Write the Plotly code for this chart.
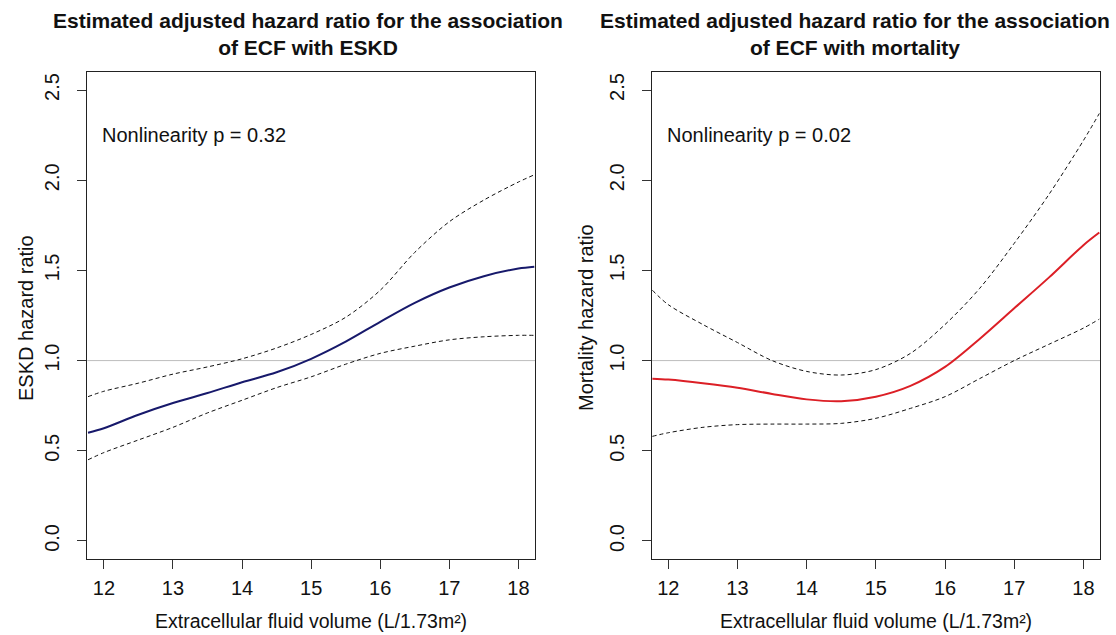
import plotly.graph_objects as go

# ---------------- data ----------------
ecf_x = [11.77, 12.0, 12.5, 13.0, 13.5, 14.0, 14.5, 15.0, 15.5, 16.0, 16.5, 17.0, 17.5, 18.0, 18.23]

eskd_hr = [0.60, 0.625, 0.70, 0.765, 0.82, 0.88, 0.935, 1.01, 1.105, 1.215, 1.32, 1.405, 1.468, 1.51, 1.52]
eskd_upper = [0.80, 0.83, 0.875, 0.925, 0.965, 1.01, 1.07, 1.145, 1.24, 1.39, 1.60, 1.77, 1.89, 1.99, 2.03]
eskd_lower = [0.45, 0.49, 0.56, 0.63, 0.71, 0.78, 0.85, 0.91, 0.98, 1.04, 1.08, 1.115, 1.132, 1.14, 1.14]

mort_hr = [0.90, 0.895, 0.875, 0.85, 0.815, 0.785, 0.775, 0.80, 0.86, 0.965, 1.12, 1.29, 1.46, 1.64, 1.71]
mort_upper = [1.39, 1.31, 1.20, 1.10, 1.00, 0.94, 0.92, 0.95, 1.04, 1.20, 1.40, 1.65, 1.92, 2.22, 2.37]
mort_lower = [0.58, 0.60, 0.63, 0.645, 0.648, 0.648, 0.652, 0.68, 0.735, 0.80, 0.90, 1.00, 1.09, 1.18, 1.23]

x_ticks = [12, 13, 14, 15, 16, 17, 18]
y_ticks = [0.0, 0.5, 1.0, 1.5, 2.0, 2.5]
y_tick_text = ["0.0", "0.5", "1.0", "1.5", "2.0", "2.5"]

titles = ["<b>Estimated adjusted hazard ratio for the association<br>of ECF with ESKD</b>",
          "<b>Estimated adjusted hazard ratio for the association<br>of ECF with mortality</b>"]
y_titles = ["ESKD hazard ratio", "Mortality hazard ratio"]
x_title = "Extracellular fluid volume (L/1.73m²)"
p_texts = ["Nonlinearity p = 0.32", "Nonlinearity p = 0.02"]

# ---------------- figure ----------------
W, H = 1116, 635
FONT = "Liberation Sans, Arial, sans-serif"
NAVY = "#17196b"
RED = "#dc1f26"

fig = go.Figure()

panels = [
    dict(xa="x", ya="y", hr=eskd_hr, up=eskd_upper, lo=eskd_lower, col=NAVY),
    dict(xa="x2", ya="y2", hr=mort_hr, up=mort_upper, lo=mort_lower, col=RED),
]
for p in panels:
    for ys in (p["up"], p["lo"]):
        fig.add_trace(go.Scatter(x=ecf_x, y=ys, mode="lines", xaxis=p["xa"], yaxis=p["ya"],
                                 line=dict(color="#111", width=1, dash="4px,3px", shape="spline", smoothing=0.9),
                                 showlegend=False, hoverinfo="skip"))
    fig.add_trace(go.Scatter(x=ecf_x, y=p["hr"], mode="lines", xaxis=p["xa"], yaxis=p["ya"],
                             line=dict(color=p["col"], width=2, shape="spline", smoothing=0.9),
                             showlegend=False))

# pixel geometry
L1, R1 = 87.3, 535.0
L2, R2 = 651.7, 1100.0
TOP, BOT = 72.0, 559.0

def px_x(v):
    return v / W

def px_y(v):
    return 1 - v / H

axis_common = dict(showgrid=False, zeroline=False, showline=True, linecolor="#222", linewidth=1,
                   mirror=True, ticks="outside", ticklen=9, tickwidth=1, tickcolor="#333",
                   tickfont=dict(family=FONT, size=20, color="#111"))

fig.update_layout(
    width=W, height=H, margin=dict(l=0, r=0, t=0, b=0),
    paper_bgcolor="white", plot_bgcolor="white",
    xaxis=dict(domain=[px_x(L1), px_x(R1)], range=[11.76, 18.24], anchor="y",
               tickvals=x_ticks, ticklabelstandoff=2, **axis_common),
    yaxis=dict(domain=[px_y(BOT), px_y(TOP)], range=[-0.1, 2.6], anchor="x",
               tickvals=y_ticks, ticktext=y_tick_text, tickangle=-90, ticklabelstandoff=10, **axis_common),
    xaxis2=dict(domain=[px_x(L2), px_x(R2)], range=[11.76, 18.24], anchor="y2",
                tickvals=x_ticks, ticklabelstandoff=2, **axis_common),
    yaxis2=dict(domain=[px_y(BOT), px_y(TOP)], range=[-0.1, 2.6], anchor="x2",
                tickvals=y_ticks, ticktext=y_tick_text, tickangle=-90, ticklabelstandoff=10, **axis_common),
)

# reference line at HR = 1
for xa, ya in (("x", "y"), ("x2", "y2")):
    fig.add_shape(type="line", xref=f"{xa} domain", yref=ya, x0=0, x1=1, y0=1, y1=1,
                  line=dict(color="#bdbdbd", width=1), layer="below")

ann = []
title_cx = [308, 855]
plot_cx = [(L1 + R1) / 2, (L2 + R2) / 2]
ytitle_x = [26, 586]
ptext_x = [100, 665]
for i in range(2):
    ann.append(dict(text=titles[i], xref="paper", yref="paper", x=px_x(title_cx[i]), y=px_y(34),
                    xanchor="center", yanchor="middle", showarrow=False,
                    font=dict(family=FONT, size=21, color="#111")))
    ann.append(dict(text=x_title, xref="paper", yref="paper", x=px_x(plot_cx[i]), y=px_y(621),
                    xanchor="center", yanchor="middle", showarrow=False,
                    font=dict(family=FONT, size=19.5, color="#111")))
    ann.append(dict(text=y_titles[i], xref="paper", yref="paper", x=px_x(ytitle_x[i]), y=px_y(318),
                    xanchor="center", yanchor="middle", showarrow=False, textangle=-90,
                    font=dict(family=FONT, size=20, color="#111")))
    ann.append(dict(text=p_texts[i], xref="paper", yref="paper", x=px_x(ptext_x[i]), y=px_y(135),
                    xanchor="left", yanchor="middle", showarrow=False,
                    font=dict(family=FONT, size=20, color="#111")))
fig.update_layout(annotations=ann)

fig.write_html("out.html")
